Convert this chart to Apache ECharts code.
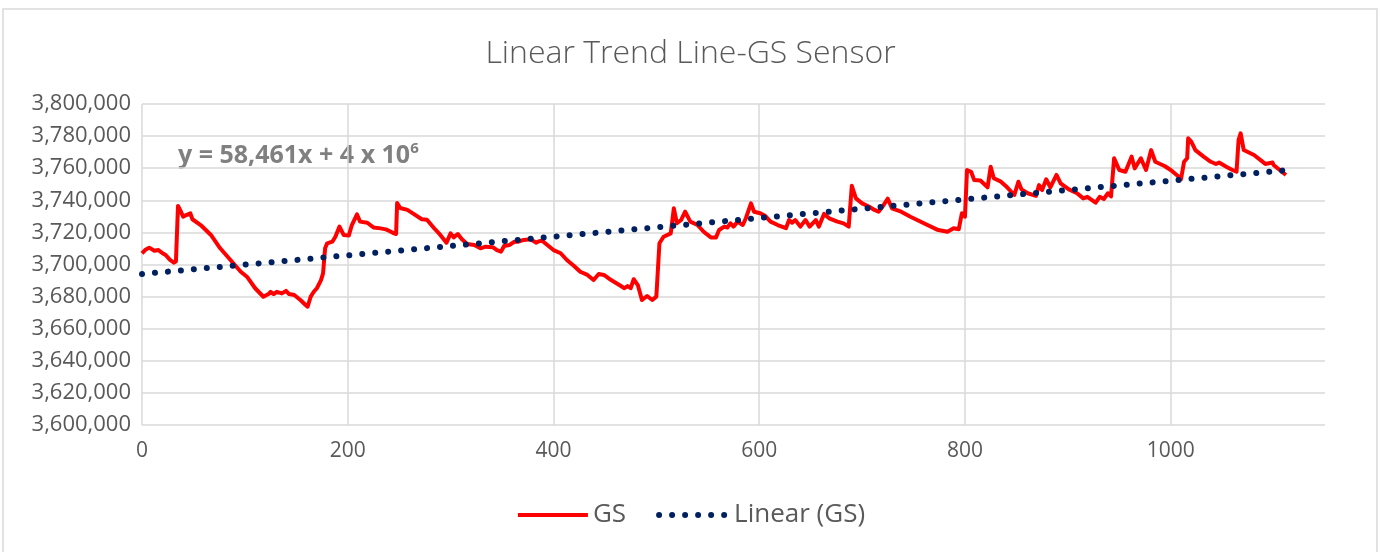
<!DOCTYPE html>
<html>
<head>
<meta charset="utf-8">
<script src="https://cdn.jsdelivr.net/npm/echarts@6/dist/echarts.min.js"></script>
<style>
  html, body { margin: 0; padding: 0; background: #fff; }
  #container { width: 1381px; height: 552px; }
</style>
</head>
<body>
<div id="container"></div>
<script>
var dom = document.getElementById("container");
var myChart = echarts.init(dom, null, {renderer: 'canvas'});

// sample index
var gsX = [0, 3, 7, 12, 16, 20, 23, 27, 31, 33, 35, 36, 37, 40, 43, 47, 49, 57, 67, 76, 86, 96, 102, 110,
  118, 123, 125, 128, 131, 136, 140, 143, 148, 154, 159, 161, 164, 167, 170, 174, 176, 178, 180, 185,
  188, 192, 196, 201, 204, 209, 212, 219, 225, 232, 237, 240, 245, 247, 248, 251, 258, 264, 272, 277,
  284, 290, 296, 300, 303, 307, 311, 316, 323, 329, 334, 341, 345, 349, 352, 357, 362, 366, 371, 378,
  383, 386, 389, 394, 400, 407, 413, 420, 426, 433, 439, 444, 449, 456, 464, 469, 472, 475, 478, 482,
  486, 491, 496, 500, 503, 507, 514, 517, 520, 524, 528, 533, 540, 546, 553, 558, 561, 566, 569, 572,
  575, 579, 584, 587, 592, 595, 601, 606, 611, 618, 626, 629, 632, 635, 640, 645, 649, 655, 658, 663,
  668, 676, 682, 687, 690, 694, 700, 707, 712, 716, 721, 725, 729, 738, 747, 760, 773, 783, 789, 794,
  797, 800, 802, 806, 809, 815, 822, 825, 828, 835, 841, 848, 852, 855, 861, 869, 872, 875, 879, 883,
  889, 893, 901, 909, 915, 919, 927, 931, 935, 939, 942, 945, 950, 956, 962, 965, 971, 976, 981, 985,
  994, 1000, 1007, 1010, 1013, 1016, 1017, 1020, 1024, 1032, 1039, 1044, 1047, 1054, 1060, 1064, 1066,
  1068, 1071, 1081, 1088, 1092, 1099, 1100, 1112];

var gsY = [3707000, 3709000, 3710500, 3708600, 3709000, 3707000, 3705900, 3703000, 3701100, 3702000,
  3736500, 3737500, 3734000, 3729800, 3730800, 3731900, 3728200, 3724600, 3718400, 3710100, 3702800,
  3695500, 3692400, 3685200, 3679900, 3681600, 3683000, 3681600, 3683000, 3682000, 3683600, 3681600,
  3681000, 3677900, 3674800, 3673700, 3680000, 3683000, 3685200, 3690300, 3694500, 3710100, 3713200,
  3714200, 3717300, 3723600, 3718400, 3718000, 3724600, 3731200, 3726700, 3726000, 3723100, 3722500,
  3721900, 3721000, 3719400, 3719000, 3738300, 3735200, 3734000, 3731500, 3728200, 3727900, 3722600,
  3718400, 3713600, 3719400, 3716900, 3719000, 3715700, 3712800, 3712100, 3710100, 3711100, 3710800,
  3709000, 3708000, 3711500, 3712100, 3714200, 3714200, 3715300, 3715700, 3713600, 3714500, 3714800,
  3712100, 3709000, 3707000, 3702800, 3699100, 3695500, 3693500, 3690300, 3694100, 3693500, 3690300,
  3687200, 3685200, 3686600, 3685200, 3690800, 3687200, 3677900, 3680400, 3677900, 3680000, 3713200,
  3717300, 3719400, 3735000, 3725700, 3727700, 3732900, 3726700, 3724600, 3720400, 3716900, 3716900,
  3721500, 3723600, 3723000, 3725700, 3723600, 3726700, 3724600, 3728800, 3738100, 3732900, 3731900,
  3730200, 3726700, 3724600, 3722600, 3727700, 3726000, 3727700, 3723600, 3727700, 3723600, 3727700,
  3723600, 3731500, 3728800, 3726700, 3725600, 3723600, 3749000, 3741200, 3738100, 3736000, 3734000,
  3732900, 3737100, 3741000, 3735000, 3732900, 3729800, 3725700, 3721700, 3720400, 3722600, 3722000,
  3731900, 3729800, 3758900, 3757800, 3752600, 3752300, 3748100, 3760900, 3753700, 3751600, 3748100,
  3743300, 3751600, 3746800, 3744400, 3742700, 3749500, 3746400, 3753100, 3748100, 3755800, 3750600,
  3746800, 3744400, 3741200, 3742200, 3738500, 3742200, 3740800, 3744400, 3742400, 3766200, 3758900,
  3757800, 3767200, 3759900, 3766200, 3758900, 3771300, 3764000, 3761400, 3758900, 3755100, 3753100,
  3764000, 3766200, 3778600, 3776500, 3771300, 3767200, 3764000, 3762600, 3763500, 3760900, 3758900,
  3757800, 3777600, 3781700, 3771300, 3768200, 3764700, 3762600, 3763500, 3762000, 3755800];

// trend line end points
var trendX = [0, 1112];
var trendY = [3694100, 3758700];

var yTicks = { min: 3600000, max: 3800000, step: 20000 };
var xTicks = { min: 0, max: 1150, step: 200 };

function pairs(xs, ys) {
  return xs.map(function (x, i) { return [x, ys[i]]; });
}

var grey = '#595959';
var gridColor = '#d9d9d9';
var font = 'Open Sans';
var red = '#ff0000';
var navy = '#002060';

var option = {
  animation: false,
  backgroundColor: '#fff',
  title: {
    text: 'Linear Trend Line-GS Sensor',
    left: 'center',
    top: 33,
    textStyle: { color: grey, fontFamily: font, fontWeight: 300, fontSize: 32 }
  },
  graphic: [
    {
      type: 'rect',
      shape: { x: 3, y: 9, width: 1374, height: 560 },
      style: { fill: 'none', stroke: gridColor, lineWidth: 1.5 },
      silent: true
    },
    {
      type: 'text',
      left: 178,
      top: 141,
      style: {
        text: '{a|y = 58,461x + 4 x 10}{s|6}',
        rich: {
          a: { fontFamily: font, fontWeight: 'bold', fontSize: 25, fill: '#808080', verticalAlign: 'bottom' },
          s: { fontFamily: font, fontWeight: 'bold', fontSize: 15, fill: '#808080', verticalAlign: 'top', padding: [0, 0, 12, 0] }
        }
      }
    }
  ],
  legend: {
    bottom: 19,
    left: 'center',
    itemWidth: 70,
    itemHeight: 14,
    itemGap: 30,
    itemStyle: { opacity: 0 },
    textStyle: { color: grey, fontFamily: font, fontSize: 26 },
    data: [
      { name: 'GS', lineStyle: { color: red, width: 4 } },
      { name: 'Linear (GS)', lineStyle: { color: navy, width: 6, type: [0.01, 13], cap: 'round' } }
    ]
  },
  grid: { left: 142, right: 56, top: 104, bottom: 127 },
  xAxis: {
    type: 'value',
    min: xTicks.min,
    max: xTicks.max,
    interval: xTicks.step,
    axisLine: { show: false },
    axisTick: { show: false },
    axisLabel: {
      color: grey, fontFamily: font, fontSize: 21, margin: 16, showMaxLabel: false,
      formatter: function (v) { return String(v); }
    },
    splitLine: { show: true, showMaxLine: false, lineStyle: { color: gridColor, width: 1.5 } }
  },
  yAxis: {
    type: 'value',
    min: yTicks.min,
    max: yTicks.max,
    interval: yTicks.step,
    axisLine: { show: false },
    axisTick: { show: false },
    axisLabel: {
      color: grey, fontFamily: font, fontSize: 22, margin: 11,
      formatter: function (v) { return v.toLocaleString('en-US'); }
    },
    splitLine: { show: true, lineStyle: { color: gridColor, width: 1.5 } }
  },
  series: [
    {
      name: 'GS',
      type: 'line',
      data: pairs(gsX, gsY),
      showSymbol: false,
      symbol: 'none',
      color: red,
      lineStyle: { color: red, width: 4, join: 'round' },
      z: 3
    },
    {
      name: 'Linear (GS)',
      type: 'line',
      data: pairs(trendX, trendY),
      showSymbol: false,
      symbol: 'none',
      color: navy,
      lineStyle: { color: navy, width: 6, type: [0.01, 13], cap: 'round' },
      z: 4
    }
  ]
};

myChart.setOption(option);
</script>
</body>
</html>
